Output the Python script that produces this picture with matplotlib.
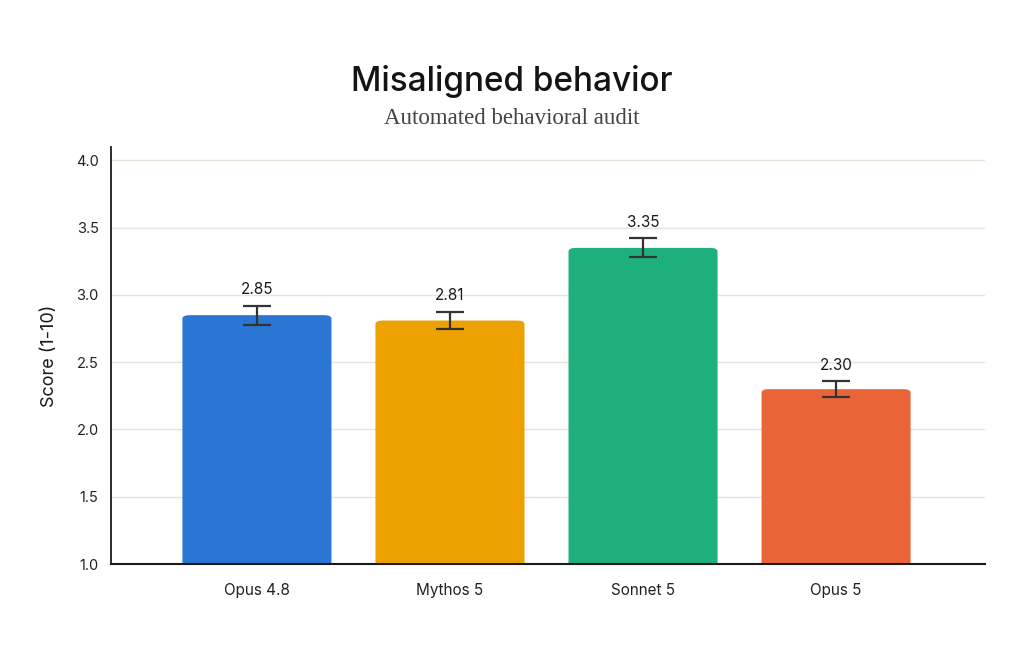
import matplotlib.pyplot as plt
from matplotlib.patches import FancyBboxPatch

# Data
models = ['Opus 4.8', 'Mythos 5', 'Sonnet 5', 'Opus 5']
scores = [2.85, 2.81, 3.35, 2.30]
errors = [0.07, 0.065, 0.07, 0.06]
colors = ['#2976D4', '#EDA100', '#1DB07D', '#E96538']
yticks = [1.0, 1.5, 2.0, 2.5, 3.0, 3.5, 4.0]

fig = plt.figure(figsize=(10.24, 6.64), dpi=100)
ax = fig.add_axes([0.1084, 0.1506, 0.8536, 0.628])

x = list(range(len(models)))
width = 0.772
bars = ax.bar(x, [s - 1.0 for s in scores], width=width, bottom=1.0, color=colors, zorder=2)

# swap bars for rounded-top versions
for b, c in zip(bars, colors):
    b.set_visible(False)
    ax.add_patch(FancyBboxPatch((b.get_x(), b.get_y() - 0.05), b.get_width(), b.get_height() + 0.05,
                                boxstyle="round,pad=0,rounding_size=0.04", mutation_aspect=0.65,
                                facecolor=c, edgecolor='none', zorder=2))

ax.errorbar(x, scores, yerr=errors, fmt='none', ecolor='#333333',
            elinewidth=1.6, capsize=10, capthick=1.6, zorder=3)

for xi, s, e in zip(x, scores, errors):
    ax.annotate(f'{s:.2f}', (xi, s + e), xytext=(0, 6), textcoords='offset points',
                ha='center', va='bottom', fontsize=11, family='Inter', color='#1a1a1a')

ax.set_xlim(-0.756, 3.772)
ax.set_ylim(1.0, 4.1)
ax.set_yticks(yticks)
ax.set_yticklabels([f'{t:.1f}' for t in yticks])
ax.set_xticks(x)
ax.set_xticklabels(models)
ax.tick_params(axis='both', length=0, labelsize=10.5, labelcolor='#222222')
ax.tick_params(axis='x', pad=14, labelsize=11)
ax.tick_params(axis='y', pad=9)
for lbl in ax.get_xticklabels() + ax.get_yticklabels():
    lbl.set_family('Inter')

ax.grid(axis='y', color='#e8e4da', linewidth=1, zorder=0)
ax.set_axisbelow(True)
for side in ['top', 'right']:
    ax.spines[side].set_visible(False)
ax.spines['left'].set_color('#1a1a1a')
ax.spines['bottom'].set_color('#1a1a1a')
ax.spines['left'].set_linewidth(1.3)
ax.spines['bottom'].set_linewidth(1.5)

ax.set_ylabel('Score (1-10)', fontsize=13, family='Inter', color='#1a1a1a', labelpad=13)

fig.text(0.5, 0.877, 'Misaligned behavior', ha='center', va='center', fontsize=24,
         family='Inter', fontweight='medium', color='#141414')
fig.text(0.5, 0.822, 'Automated behavioral audit', ha='center', va='center', fontsize=16.5,
         family='Liberation Serif', color='#444444')

fig.savefig('out.png', dpi=100)
